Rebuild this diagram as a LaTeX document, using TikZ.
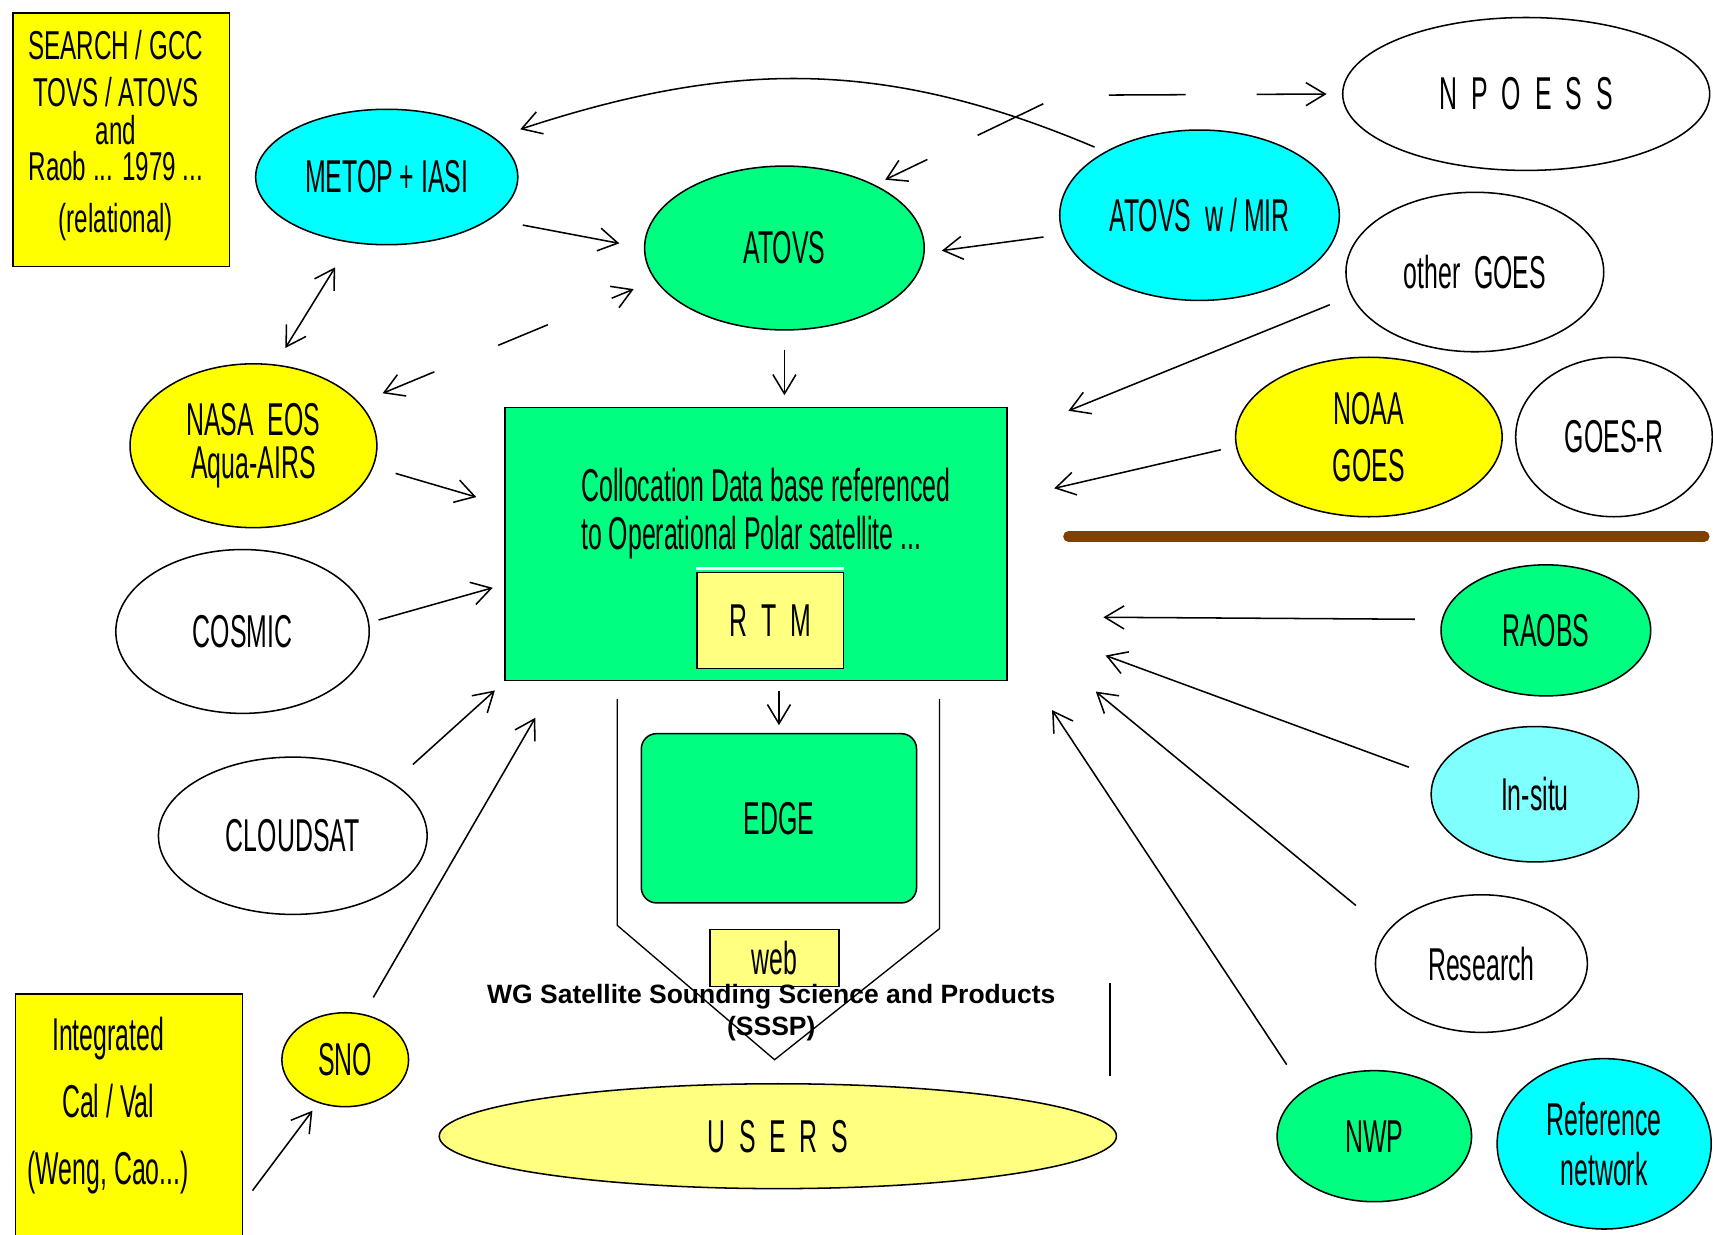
\documentclass[tikz,border=0pt]{standalone}
\usepackage{fontspec}
\setmainfont{Liberation Sans}
\newfontfamily\narrowfont[FakeStretch=0.54]{Liberation Sans}
\newfontfamily\panelfont[FakeStretch=0.6]{Liberation Sans}
\usepackage{tikz}
\usetikzlibrary{positioning}
\usetikzlibrary{shapes.geometric}
\usetikzlibrary{arrows.meta}
\definecolor{aqua}{HTML}{00FFFF}
\definecolor{mint}{HTML}{00FF80}
\definecolor{lemon}{HTML}{FFFF00}
\definecolor{paleyellow}{HTML}{FFFF80}
\definecolor{palecyan}{HTML}{80FFFF}
\definecolor{rust}{HTML}{804000}
\tikzset{
  box/.style            = { rectangle, inner sep=0pt },
  border/.style         = { line width=0.8pt, draw=black },
  oval/.style           = { ellipse, inner sep=0pt, align=center, border },
}
\tikzset{
  source/.style         = { oval, fill=white },
  polar/.style          = { oval, fill=mint },
  geo/.style            = { oval, fill=lemon },
  cyanoval/.style       = { oval, fill=aqua },
  panel/.style          = { box, border, fill=lemon },
  store/.style          = { box, border, fill=mint },
  tag/.style            = { box, border, fill=paleyellow },
}
\tikzset{
  link/.style           = { line width=0.8pt, draw=black, -> },
  twoway/.style         = { link, <-> },
  dashlink/.style       = { link, dash pattern=on 40pt off 37pt },
}

\begin{document}
\begin{tikzpicture}[
  x=0.02cm, y=-0.02cm,
  >={Straight Barb[length=10pt,width=12pt]},
  font=\narrowfont\fontsize{24}{24}\selectfont
  ]
  \fill [white] (0,0) rectangle (1568,1130);
  \useasboundingbox (0,0) rectangle (1568,1130);

  % left side
  \node (search)     [panel, minimum width=3.96cm, minimum height=4.64cm] at (111,128) {};
  \node (searchtext) [align=center, font=\panelfont\fontsize{21}{24}\selectfont] at (106,124)
    {SEARCH / GCC\\[0.5pt]TOVS / ATOVS\\[-4pt]and\hspace*{17pt}\\[-5pt]Raob ... 1979 ...\\[3pt](relational)};
  \node (metop)    [cyanoval, minimum width=4.8cm,  minimum height=2.48cm] at (354,162) {METOP + IASI};
  \node (nasa)     [geo,      minimum width=4.52cm, minimum height=3cm]    at (232,408) {NASA~~EOS\\[-2pt]Aqua-AIRS};
  \node (cosmic)   [source,   minimum width=4.64cm, minimum height=3cm]    at (222,578) {COSMIC};
  \node (cloudsat) [source,   minimum width=4.92cm, minimum height=2.88cm] at (268,765) {CLOUDSAT};
  \node (sno)      [geo,      minimum width=2.32cm, minimum height=1.72cm] at (316,970) {SNO};
  \node (calval)     [panel, minimum width=4.16cm, minimum height=4.6cm] at (118,1025) {};
  \node (calvaltext) [align=center] at (99,1012) {Integrated\\[11pt]Cal / Val\\[11pt](Weng, Cao...)};

  % centre
  \node (atovs)   [polar, minimum width=5.12cm, minimum height=3cm] at (718,227) {ATOVS};
  \node (dbase)   [store, minimum width=9.2cm, minimum height=5cm] at (692,498) {};
  \node (dbasetext) [align=left] at (701,470)
    {Collocation Data base referenced\\[1pt]to Operational Polar satellite ...};
  \node (rtm)     [tag, minimum width=2.68cm, minimum height=1.76cm] at (705,568) {R~~T~~M};
  \node (edge)    [store, rounded corners=8pt, minimum width=5.04cm, minimum height=3.1cm] at (713,749) {EDGE};
  \node (web)     [tag, minimum width=2.36cm, minimum height=1.04cm] at (709,877) {web};
  \node (users)   [oval, fill=paleyellow, minimum width=12.4cm, minimum height=1.92cm] at (712,1040) {U~~S~~E~~R~~S};
  \node (title)   [font=\rmfamily\bfseries\fontsize{13.8}{16.5}\selectfont, align=center] at (706,927)
    {WG Satellite Sounding Science and Products\\(SSSP)};
  \draw [white, line width=1.6pt] ([yshift=1.6pt]rtm.north west) -- ([yshift=1.6pt]rtm.north east);

  % right side
  \node (atovsmir)  [cyanoval, minimum width=5.12cm, minimum height=3.12cm] at (1098,197) {ATOVS~~w / MIR};
  \node (npoess)    [source,   minimum width=6.72cm, minimum height=2.8cm]  at (1397,86)  {N~~P~~O~~E~~S~~S};
  \node (othergoes) [source,   minimum width=4.72cm, minimum height=2.92cm] at (1350,249) {other~~GOES};
  \node (noaa)      [geo,      minimum width=4.88cm, minimum height=2.92cm] at (1253,400) {NOAA\\[6pt]GOES};
  \node (goesr)     [source,   minimum width=3.6cm,  minimum height=2.92cm, right=0.22cm of noaa] {GOES-R};
  \node (raobs)     [polar,    minimum width=3.84cm, minimum height=2.4cm]  at (1415,577) {RAOBS};
  \node (insitu)    [oval, fill=palecyan, minimum width=3.8cm, minimum height=2.48cm] at (1405,727) {In-situ};
  \node (research)  [source,   minimum width=3.88cm, minimum height=2.52cm] at (1356,882) {Research};
  \node (nwp)       [polar,    minimum width=3.56cm, minimum height=2.4cm]  at (1258,1040) {NWP};
  \node (refnet)    [cyanoval, minimum width=3.92cm, minimum height=3.12cm, right=0.44cm of nwp, yshift=-0.14cm] {Reference\\[2pt]network};

  % loose ends of the arrows
  \coordinate (npfrom)      at (1015,87);
  \coordinate (atfrom)      at (955,95);
  \coordinate (tipgoes)     at (978,376);
  \coordinate (tipnoaa)     at (965,447);
  \coordinate (tipraobs)    at (1010,565);
  \coordinate (tipinsitu)   at (1012,600);
  \coordinate (tipresearch) at (1003,633);
  \coordinate (tipnwp)      at (963,650);
  \coordinate (tipnasa)     at (436,455);
  \coordinate (tipcosmic)   at (451,538);
  \coordinate (tipcloudsat) at (453,632);
  \coordinate (tipsno)      at (490,657);

  \draw [line width=5.5pt, line cap=round, draw=rust] (978,491) -- (1560,491);
  \draw [line width=0.7pt] (565,640) -- (565,847) -- (709,970) -- (860,850) -- (860,640);
  \draw [line width=0.7pt] (1016,900) -- (1016,985);

  \draw [link, shorten <=6pt, shorten >=14pt] (atovsmir.146) .. controls (811,54) and (672,54) .. (metop.20);
  \draw [link, shorten <=17pt, shorten >=13pt] (metop.-22) -- (atovs.180);
  \draw [twoway, shorten <=15pt, shorten >=10pt] (metop.-119) -- (nasa.75);
  \draw [link, shorten <=10pt, shorten >=9pt] (atovsmir.188) -- (atovs.-2);
  \draw [link, shorten <=10pt, shorten >=6pt] (atovs.south) -- (atovs.south |- dbase.north);
  \draw [link, shorten <=5pt, shorten >=4pt] (edge.north |- dbase.south) -- (edge.north);
  \draw [dashlink, shorten >=8pt] (npfrom) -- (npoess.west);
  \draw [dashlink, dash pattern=on 38pt off 29pt, shorten >=6pt] (atfrom) -- (atovs.35);
  \draw [dashlink, <->, dash pattern=on 28pt off 36pt, shorten <=13pt, shorten >=12pt] (nasa.22) -- (atovs.194);

  \draw [link, shorten <=12pt] (othergoes.191) -- (tipgoes);
  \draw [link, shorten <=8pt]  (noaa.184)      -- (tipnoaa);
  \draw [link, shorten <=14pt] (raobs.174)     -- (tipraobs);
  \draw [link, shorten <=14pt] (insitu.170)    -- (tipinsitu);
  \draw [link, shorten <=21pt] (research.161)  -- (tipresearch);
  \draw [link, shorten <=16pt] (nwp.147)       -- (tipnwp);
  \draw [link, shorten <=12pt] (nasa.-10)      -- (tipnasa);
  \draw [link, shorten <=5pt]  (cosmic.4)      -- (tipcosmic);
  \draw [link, shorten <=14pt] (cloudsat.28)   -- (tipcloudsat);
  \draw [link, shorten <=10pt] (sno.68)        -- (tipsno);
  \draw [link, shorten <=8pt, shorten >=5pt] (calval.-36) -- (sno.-122);
\end{tikzpicture}
\end{document}
